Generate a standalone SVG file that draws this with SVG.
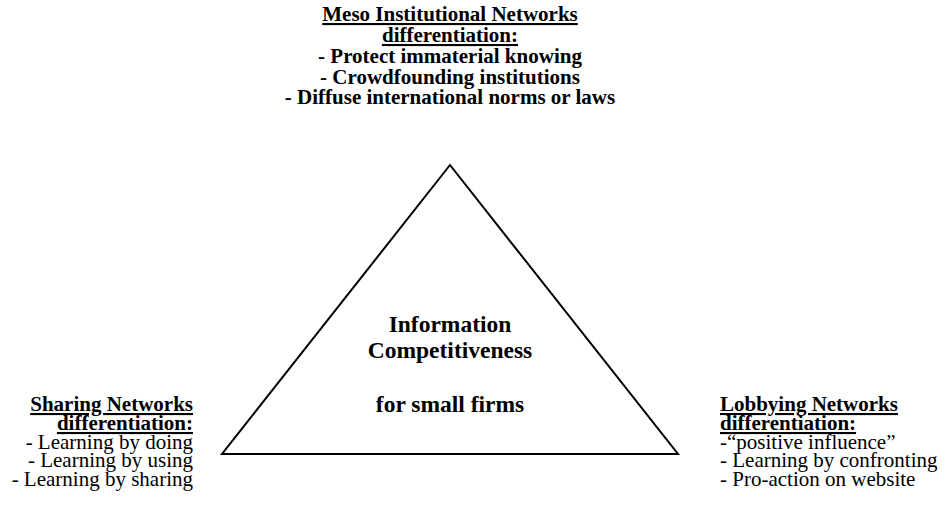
<svg xmlns="http://www.w3.org/2000/svg" width="951" height="514" viewBox="0 0 951 514">
  <style>
    text { font-family: "Liberation Serif", "Times New Roman", serif; fill: #000; }
    .b { font-weight: bold; }
    .s { font-size: 21px; }
    .c { font-size: 23.5px; }
    .u { text-decoration: underline; }
    .mid { text-anchor: middle; }
    .end { text-anchor: end; }
    .tri { fill: none; stroke: #000; stroke-width: 2; stroke-linejoin: miter; }
  </style>
  <rect width="951" height="514" fill="#fff"/>

  <!-- central triangle with its label -->
  <g id="core">
    <polygon class="tri" points="450,165 222,454 678,454"/>
    <text class="b c mid" x="450" y="332">Information</text>
    <text class="b c mid" x="450" y="358">Competitiveness</text>
    <text class="b c mid" x="450" y="412">for small firms</text>
  </g>

  <!-- top vertex -->
  <g id="meso" class="b s">
    <text class="b s mid u" x="450" y="21">Meso Institutional Networks</text>
    <text class="b s mid u" x="450" y="42">differentiation:</text>
    <text class="b s mid" x="450" y="63">- Protect immaterial knowing</text>
    <text class="b s mid" x="450" y="84">- Crowdfounding institutions</text>
    <text class="b s mid" x="450" y="104">- Diffuse international norms or laws</text>
  </g>

  <!-- left vertex -->
  <g id="sharing">
    <text class="b s end u" x="193" y="411">Sharing Networks</text>
    <text class="b s end u" x="193" y="430">differentiation:</text>
    <text class="s end" x="193" y="448.5">- Learning by doing</text>
    <text class="s end" x="193" y="467">- Learning by using</text>
    <text class="s end" x="193" y="485.5">- Learning by sharing</text>
  </g>

  <!-- right vertex -->
  <g id="lobbying">
    <text class="b s u" x="720" y="411">Lobbying Networks</text>
    <text class="b s u" x="720" y="430">differentiation:</text>
    <text class="s" x="720" y="448.5">-“positive influence”</text>
    <text class="s" x="720" y="467">- Learning by confronting</text>
    <text class="s" x="720" y="485.5">- Pro-action on website</text>
  </g>
</svg>
